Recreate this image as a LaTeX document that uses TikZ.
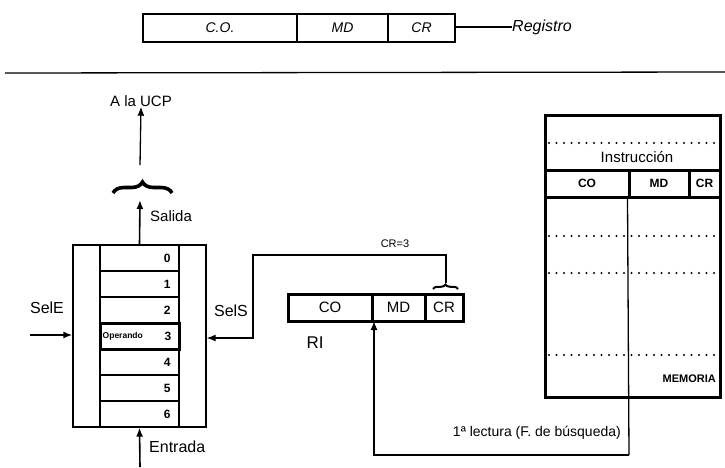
\documentclass[tikz,border=0pt]{standalone}
\usepackage{fontspec}
\setmainfont{Liberation Sans}
\usetikzlibrary{arrows.meta,decorations.pathreplacing}
\begin{document}
\begin{tikzpicture}[x=1pt,y=-1pt,
  arr/.style={-{Latex[length=9pt,width=7pt]},line width=1.6pt},
  cell/.style={draw,rectangle,inner sep=0pt,line width=1.3pt},
  thickcell/.style={draw,rectangle,inner sep=0pt,line width=3pt},
  dotline/.style={line width=2.2pt,line cap=round,dash pattern=on 0pt off 7.5pt},
  lbl/.style={inner sep=0pt,font=\fontsize{15}{17}\selectfont},
  hand/.style={inner sep=0pt,font=\fontsize{14}{16}\selectfont\itshape}
]
\useasboundingbox (0,0) rectangle (725,467);

% --- handwritten register at top
\node[cell,minimum width=154pt,minimum height=28pt] (hco) at (220,28) {};
\node[cell,minimum width=91pt,minimum height=28pt] (hmd) at (342.5,28) {};
\node[cell,minimum width=67pt,minimum height=28pt] (hcr) at (421.5,28) {};
\node[hand] at (hco) {C.O.};
\node[hand] at (hmd) {MD};
\node[hand] at (hcr) {CR};
\node[hand,anchor=west,font=\fontsize{16}{18}\selectfont\itshape] (hreg) at (512,27) {Registro};
\draw[line width=1.3pt] (hcr.east) ++(0,-1) -- (hreg.west);

% --- separator line
\draw[line width=1.3pt] (5,73) -- (725,72);

% --- register file
\node[cell,minimum width=133pt,minimum height=182pt] (rf) at (139.5,336) {};
\foreach \i in {0,1,2,4,5,6} {
  \node[cell,minimum width=79pt,minimum height=26pt] (r\i) at (139.5,258+26*\i) {};
  \node[inner sep=0pt,anchor=east,font=\fontsize{12}{14}\selectfont\bfseries] at ([xshift=-9pt]r\i.east) {\i};
}
\node[thickcell,minimum width=79pt,minimum height=26pt] (r3) at (139.5,336) {};
\node[inner sep=0pt,anchor=east,font=\fontsize{12}{14}\selectfont\bfseries] at ([xshift=-9pt]r3.east) {3};
\node[inner sep=0pt,anchor=west,font=\fontsize{8.5}{10}\selectfont\bfseries] at ([xshift=4pt]r3.west) {Operando};

% Salida / brace / A la UCP
\coordinate (brL) at (113,193);
\coordinate (brR) at (172,193);
\draw[line width=3.6pt,decorate,decoration={brace,amplitude=11pt}] (brL) -- (brR);
\coordinate (brB) at (140,200);
\coordinate (brT) at (140,165);
\draw[arr] (rf.north) -- (brB);
\node[lbl,anchor=west] at (150,216) {Salida};
\node[lbl] (ucp) at (141,101) {A la UCP};
\draw[arr,line width=1.3pt] (brT) -- (ucp.south);

% SelE
\coordinate (selEin) at (30,335);
\draw[arr] (selEin) -- (selEin -| rf.west);
\node[lbl,font=\fontsize{16}{18}\selectfont] at (47,308) {SelE};

% Entrada
\coordinate (entIn) at (140,467);
\draw[arr] (entIn) -- (rf.south);
\node[lbl,font=\fontsize{16}{18}\selectfont,anchor=west] at (149,447) {Entrada};

% --- RI
\node[thickcell,minimum width=84pt,minimum height=27pt] (rico) at (330,307.5) {};
\node[thickcell,minimum width=53pt,minimum height=27pt] (rimd) at (398.5,307.5) {};
\node[thickcell,minimum width=38pt,minimum height=27pt] (ricr) at (444,307.5) {};
\node[lbl] at (rico) {CO};
\node[lbl] at (rimd) {MD};
\node[lbl] at (ricr) {CR};
\node[lbl,font=\fontsize{17}{19}\selectfont] (ri) at (315,343) {RI};

% CR brace and SelS connector
\draw[line width=2pt,decorate,decoration={brace,amplitude=4.5pt}] (433,289) -- (458,289);
\coordinate (crTip) at (446,283);
\coordinate (selSc) at (253,338);
\draw[arr,line width=1.3pt] (crTip) -- (446,255) -| (selSc) -- (selSc -| rf.east);
\node[inner sep=0pt,font=\fontsize{11}{13}\selectfont] at (395,244) {CR=3};
\node[lbl,font=\fontsize{16}{18}\selectfont] at (231,311) {SelS};

% --- Memory
\node[draw,rectangle,inner sep=0pt,line width=3pt,minimum width=175pt,minimum height=282pt] (mem) at (632.5,256) {};
\node[thickcell,minimum width=84pt,minimum height=27pt] (mco) at (587,183.5) {};
\node[thickcell,minimum width=60pt,minimum height=27pt] (mmd) at (659,183.5) {};
\node[thickcell,minimum width=31pt,minimum height=27pt] (mcr) at (704.5,183.5) {};
\node[inner sep=0pt,font=\fontsize{12}{14}\selectfont\bfseries] at (mco) {CO};
\node[inner sep=0pt,font=\fontsize{12}{14}\selectfont\bfseries] at (mmd) {MD};
\node[inner sep=0pt,font=\fontsize{12}{14}\selectfont\bfseries] at (mcr) {CR};
\node[lbl] at (637,157) {Instrucción};
\foreach \yy in {143,236,273,355} {
  \draw[dotline] (549,\yy) -- (717,\yy);
}
\node[inner sep=0pt,anchor=east,font=\fontsize{11}{13}\selectfont\bfseries] at (716,379) {MEMORIA};

% 1a lectura connector
\coordinate (lecCorner) at (629,455);
\coordinate (riIn) at (374,321);
\draw[line width=1.3pt] (mmd.south west) -- (lecCorner);
\draw[arr,line width=1.3pt] (lecCorner) -| (riIn);
\node[lbl,font=\fontsize{14}{16}\selectfont,anchor=east] at (621,433) {1ª lectura (F. de búsqueda)};
\end{tikzpicture}
\end{document}
